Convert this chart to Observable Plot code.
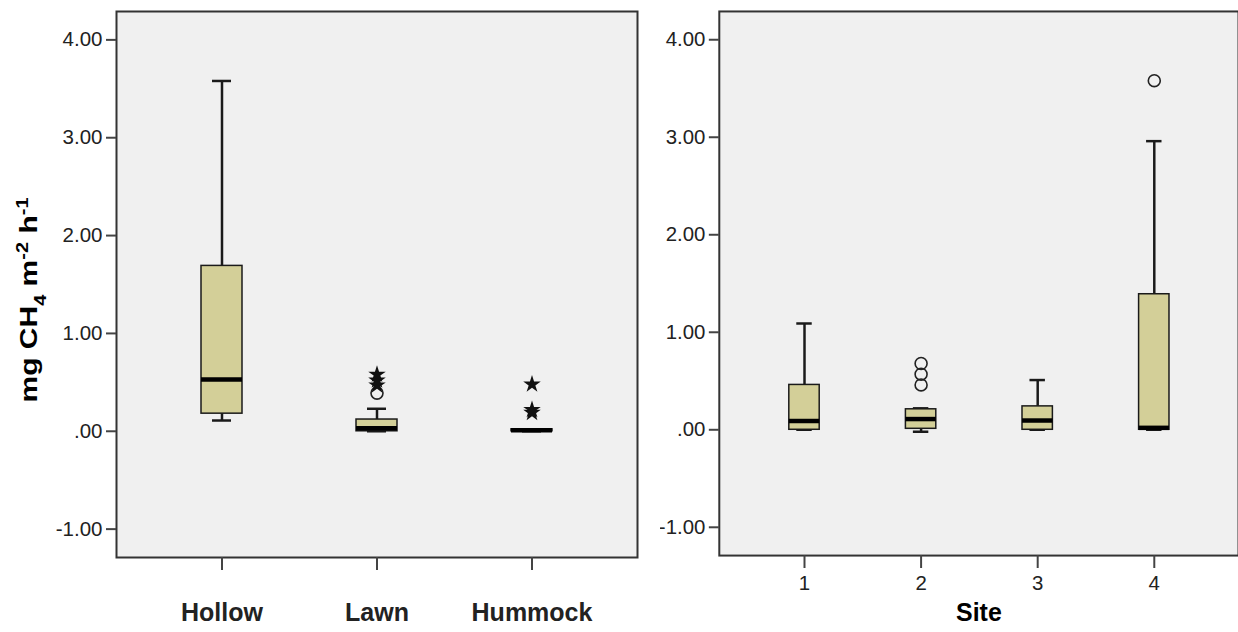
<!DOCTYPE html>
<html><head><meta charset="utf-8">
<script src="https://cdn.jsdelivr.net/npm/d3@7"></script>
<script src="https://cdn.jsdelivr.net/npm/@observablehq/plot@0.6"></script>
<style>
body{margin:0;background:#fff;overflow:hidden;font-family:"Liberation Sans",Arial,sans-serif}
#wrap{position:relative;width:1238px;height:632px;overflow:hidden}
#left{position:absolute;left:0;top:0}
#right{position:absolute;left:660px;top:0}
</style></head><body><div id="wrap"><div id="left"></div><div id="right"></div></div>
<script>
// Left panel: microform
const habitats = ["Hollow", "Lawn", "Hummock"];
const habLow  = [0.11, 0.00, 0.00];
const habQ1   = [0.18, 0.00, 0.00];
const habMed  = [0.53, 0.03, 0.01];
const habQ3   = [1.69, 0.12, 0.02];
const habHigh = [3.58, 0.23, 0.02];
const habOutCat = ["Lawn", "Lawn", "Lawn", "Lawn", "Hummock", "Hummock", "Hummock"];
const habOutVal = [0.39, 0.47, 0.52, 0.58, 0.48, 0.22, 0.19];
const habOutSym = ["circle", "star", "star", "star", "star", "star", "star"];

// Right panel: site
const sites = ["1", "2", "3", "4"];
const siteLow  = [0.00, -0.02, 0.00, 0.00];
const siteQ1   = [0.00, 0.01, 0.00, 0.00];
const siteMed  = [0.09, 0.11, 0.095, 0.02];
const siteQ3   = [0.46, 0.21, 0.24, 1.39];
const siteHigh = [1.09, 0.22, 0.51, 2.96];
const siteOutCat = ["2", "2", "2", "4"];
const siteOutVal = [0.46, 0.57, 0.68, 3.58];
const siteOutSym = ["circle", "circle", "circle", "circle"];

const yTicks = [-1, 0, 1, 2, 3, 4];
const yFmt = d => d === 0 ? ".00" : d.toFixed(2);

function panel(o) {
  const rows = o.cats.map((c, i) => ({cat: c, low: o.low[i], q1: o.q1[i], med: o.med[i], q3: o.q3[i], high: o.high[i]}));
  const outs = o.outCat.map((c, i) => ({cat: c, v: o.outVal[i], s: o.outSym[i]}));
  const ink = "#1a1a1a";
  return Plot.plot({
    width: o.width, height: 632,
    marginTop: 11, marginBottom: 75, marginLeft: o.marginLeft, marginRight: o.marginRight,
    style: {fontFamily: '"Liberation Sans", Arial, sans-serif', background: "#fff", color: "#222"},
    x: {type: "band", domain: o.cats, paddingInner: 0, paddingOuter: o.paddingOuter},
    y: {domain: [-1.29, 4.29]},
    marks: [
      Plot.frame({fill: "#f0f0f0"}),
      Plot.ruleX(rows, {x: "cat", y1: "low", y2: "q1", stroke: ink, strokeWidth: 2.5}),
      Plot.ruleX(rows, {x: "cat", y1: "q3", y2: "high", stroke: ink, strokeWidth: 2.5}),
      Plot.tickY(rows, {x: "cat", y: "high", stroke: ink, strokeWidth: 2.5, insetLeft: o.capInset, insetRight: o.capInset}),
      Plot.tickY(rows, {x: "cat", y: "low", stroke: ink, strokeWidth: 2.5, insetLeft: o.capInset, insetRight: o.capInset}),
      Plot.barY(rows, {x: "cat", y1: "q1", y2: "q3", fill: "#d3cf98", stroke: ink, strokeWidth: 1.5, insetLeft: o.boxInset, insetRight: o.boxInset}),
      Plot.tickY(rows, {x: "cat", y: "med", stroke: "#000", strokeWidth: 4.5, insetLeft: o.boxInset, insetRight: o.boxInset}),
      Plot.dot(outs.filter(d => d.s === "circle"), {x: "cat", y: "v", r: 6, symbol: "circle", fill: "none", stroke: "#222", strokeWidth: 1.6}),
      Plot.dot(outs.filter(d => d.s === "star"), {x: "cat", y: "v", r: 5.5, symbol: "star", fill: "#111", stroke: "none"}),
      Plot.frame({stroke: "#333", strokeWidth: 2}),
      Plot.axisY({ticks: yTicks, tickFormat: yFmt, tickSize: 10, tickPadding: 4, fontSize: 20.5, strokeWidth: 2, stroke: "#444", label: null}),
      Plot.axisX({tickSize: 13, tickPadding: o.tickPadding, fontSize: o.tickFont, fontWeight: o.tickWeight, strokeWidth: 2, stroke: "#444", label: null}),
      ...(o.title ? [Plot.text([o.title], {frameAnchor: "bottom", dy: 66, fontSize: 25, fontWeight: "bold", fill: "#000"})] : [])
    ]
  });
}

const left = panel({cats: habitats, low: habLow, q1: habQ1, med: habMed, q3: habQ3, high: habHigh,
  outCat: habOutCat, outVal: habOutVal, outSym: habOutSym,
  width: 660, marginLeft: 116, marginRight: 23, paddingOuter: 0.1699, boxInset: 57, capInset: 68,
  tickFont: 25, tickWeight: "bold", tickPadding: 33});
const right = panel({cats: sites, low: siteLow, q1: siteQ1, med: siteMed, q3: siteQ3, high: siteHigh,
  outCat: siteOutCat, outVal: siteOutVal, outSym: siteOutSym,
  width: 580, marginLeft: 59, marginRight: 0, paddingOuter: 0.217, boxInset: 43.25, capInset: 50.75,
  tickFont: 20.5, tickWeight: "normal", tickPadding: 7, title: "Site"});

document.getElementById("left").appendChild(left);
document.getElementById("right").appendChild(right);

// y-axis title with subscript/superscripts
const t = d3.select(left).append("text")
  .attr("transform", "translate(37,300) rotate(-90) scale(1.25,1)")
  .attr("text-anchor", "middle")
  .attr("font-family", '"Liberation Sans", Arial, sans-serif')
  .attr("font-weight", "bold").attr("font-size", 24).attr("fill", "#000");
t.append("tspan").text("mg CH");
t.append("tspan").attr("baseline-shift", "sub").attr("font-size", 16).text("4");
t.append("tspan").text(" m");
t.append("tspan").attr("baseline-shift", "super").attr("font-size", 16).text("-2");
t.append("tspan").text(" h");
t.append("tspan").attr("baseline-shift", "super").attr("font-size", 16).text("-1");
</script></body></html>
